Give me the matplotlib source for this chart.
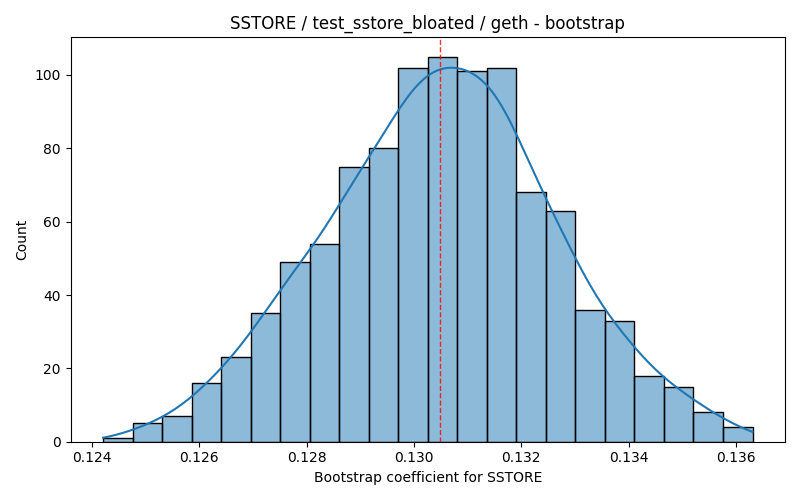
import numpy as np
import matplotlib
matplotlib.use("Agg")
import matplotlib.pyplot as plt
from matplotlib.colors import to_rgba

# Data
bin_start = 0.124205
bin_end = 0.136309
counts = [1, 5, 7, 16, 23, 35, 49, 54, 75, 80, 102, 105, 101, 102, 68, 63, 36, 33, 18, 15, 8, 4]

title = "SSTORE / test_sstore_bloated / geth - bootstrap"
xlabel = "Bootstrap coefficient for SSTORE"
ylabel = "Count"

counts = np.array(counts, dtype=float)
edges = np.linspace(bin_start, bin_end, len(counts) + 1)
centers = (edges[:-1] + edges[1:]) / 2
width = edges[1] - edges[0]
n = counts.sum()
mean = np.sum(centers * counts) / n

fig, ax = plt.subplots(figsize=(8, 5), dpi=100)
ax.hist(centers, bins=edges, weights=counts,
        facecolor=to_rgba("C0", 0.5), edgecolor="black", linewidth=1)

# Weighted Gaussian KDE (Scott's rule with n = total count)
var = np.sum(counts * (centers - mean) ** 2) / n + width ** 2 / 12
bw = np.sqrt(var) * n ** (-1 / 5)
grid = np.linspace(edges[0], edges[-1], 200)
dens = np.sum(counts[:, None] * np.exp(-0.5 * ((grid[None, :] - centers[:, None]) / bw) ** 2), axis=0)
dens /= (n * bw * np.sqrt(2 * np.pi))
ax.plot(grid, dens * n * width, color="C0", linewidth=1.5)

ax.axvline(mean, color="red", linestyle="--", linewidth=1, alpha=0.8)

ax.set_title(title)
ax.set_xlabel(xlabel)
ax.set_ylabel(ylabel)
fig.tight_layout()
fig.savefig("out.png")
